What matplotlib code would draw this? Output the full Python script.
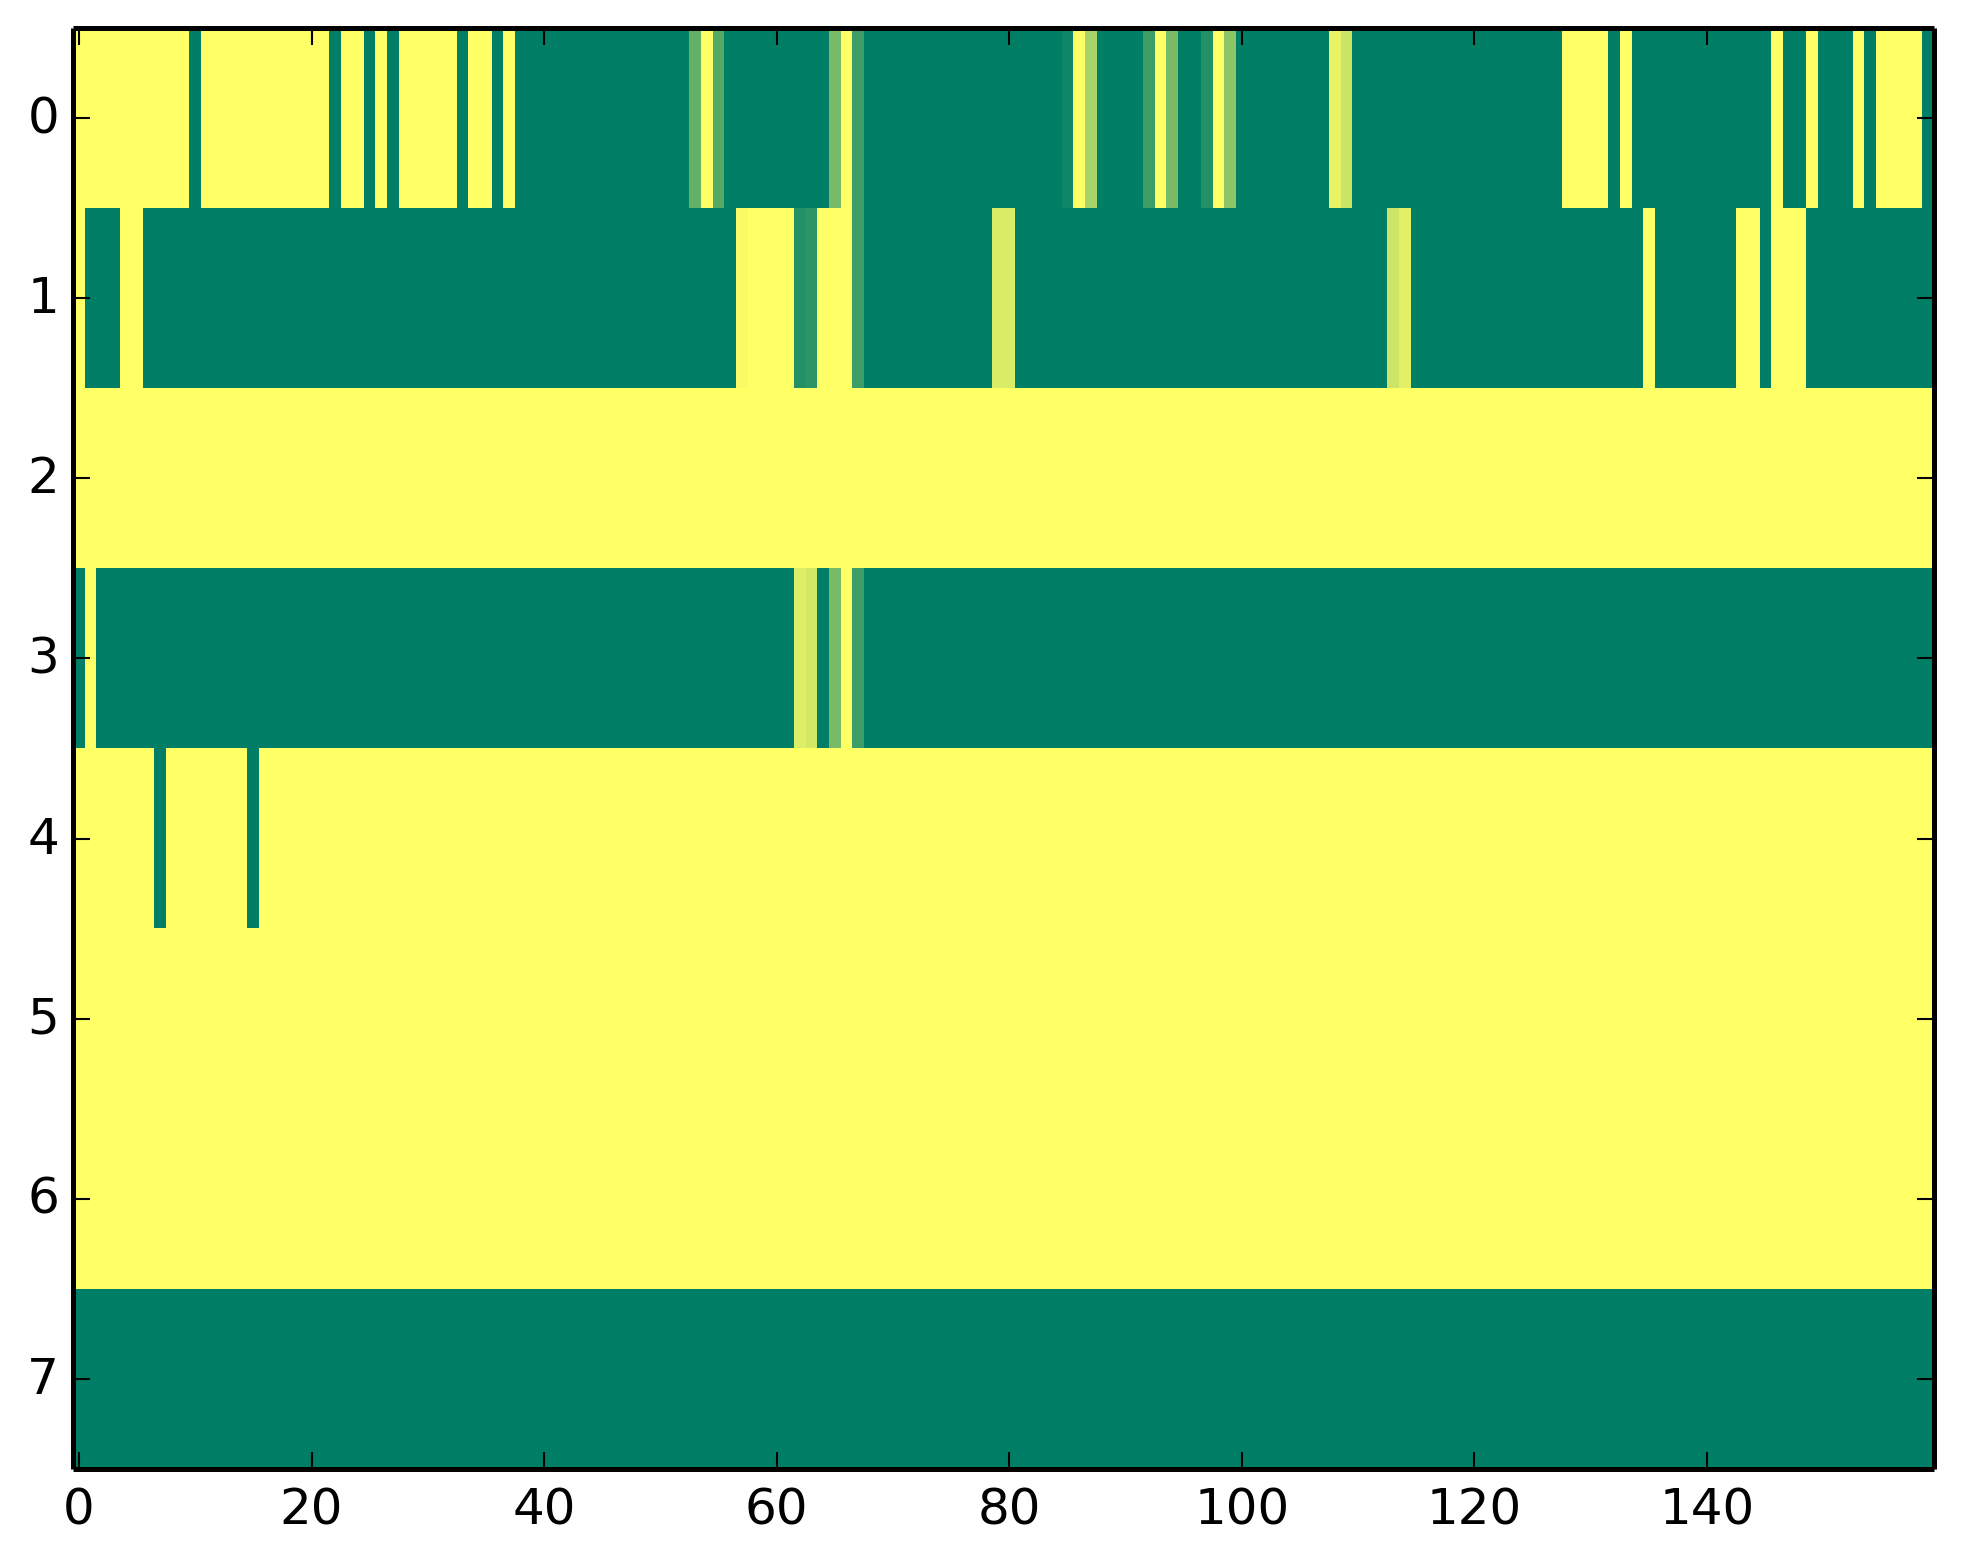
import matplotlib
matplotlib.use('Agg')
import matplotlib.pyplot as plt
import numpy as np

n_rows = 8
n_cols = 160

# columns that read as full yellow (1.0) in the mostly green rows
row0_high = [0, 1, 2, 3, 4, 5, 6, 7, 8, 9, 11, 12, 13, 14, 15, 16, 17, 18, 19, 20, 21,
             23, 24, 26, 28, 29, 30, 31, 32, 34, 35, 37, 54, 66, 86, 93, 98,
             128, 129, 130, 131, 133, 146, 149, 153, 155, 156, 157, 158]
row1_high = [0, 4, 5, 58, 59, 60, 61, 64, 65, 66, 135, 143, 144, 146, 147, 148]
row3_high = [1, 66]
# columns that read as green (0.0) in the mostly yellow row
row4_low = [7, 15]

# in-between shades, estimated from the colours
row0_mid = {53: 0.39, 55: 0.33, 65: 0.47, 67: 0.24, 85: 0.06, 87: 0.66, 92: 0.24,
            94: 0.47, 97: 0.14, 99: 0.55, 108: 0.91, 109: 0.80}
row1_mid = {57: 0.97, 62: 0.14, 63: 0.17, 67: 0.24, 79: 0.85, 80: 0.85, 113: 0.80, 114: 0.88}
row3_mid = {62: 0.86, 63: 0.83, 65: 0.47, 67: 0.24}

# rows with a single value all the way across
full_rows = {2: 1.0, 5: 1.0, 6: 1.0, 7: 0.0}

data = np.zeros((n_rows, n_cols))
for row, value in full_rows.items():
    data[row, :] = value
data[0, row0_high] = 1.0
data[1, row1_high] = 1.0
data[3, row3_high] = 1.0
data[4, :] = 1.0
data[4, row4_low] = 0.0
for row, mids in [(0, row0_mid), (1, row1_mid), (3, row3_mid)]:
    for col, value in mids.items():
        data[row, col] = value

dpi = 300
fig = plt.figure(figsize=(1963 / dpi, 1564 / dpi), dpi=dpi)
ax = fig.add_axes([73.2 / 1963, 1 - 1470 / 1564, (1933.6 - 73.2) / 1963, 1441 / 1564])

ax.imshow(data, cmap='summer', vmin=0, vmax=1, aspect='auto', interpolation='nearest')

ax.set_xticks(np.arange(0, 141, 20))
ax.set_yticks(np.arange(0, 8))
ax.tick_params(direction='in', length=4, width=0.5, top=True, right=True, labelsize=12)
ax.tick_params(axis='x', pad=4)
ax.tick_params(axis='y', pad=3.4)
for label in ax.get_yticklabels():
    label.set_verticalalignment('center')
for spine in ax.spines.values():
    spine.set_linewidth(1.2)
    spine.set_capstyle('butt')

fig.savefig('out.png', dpi=dpi)
